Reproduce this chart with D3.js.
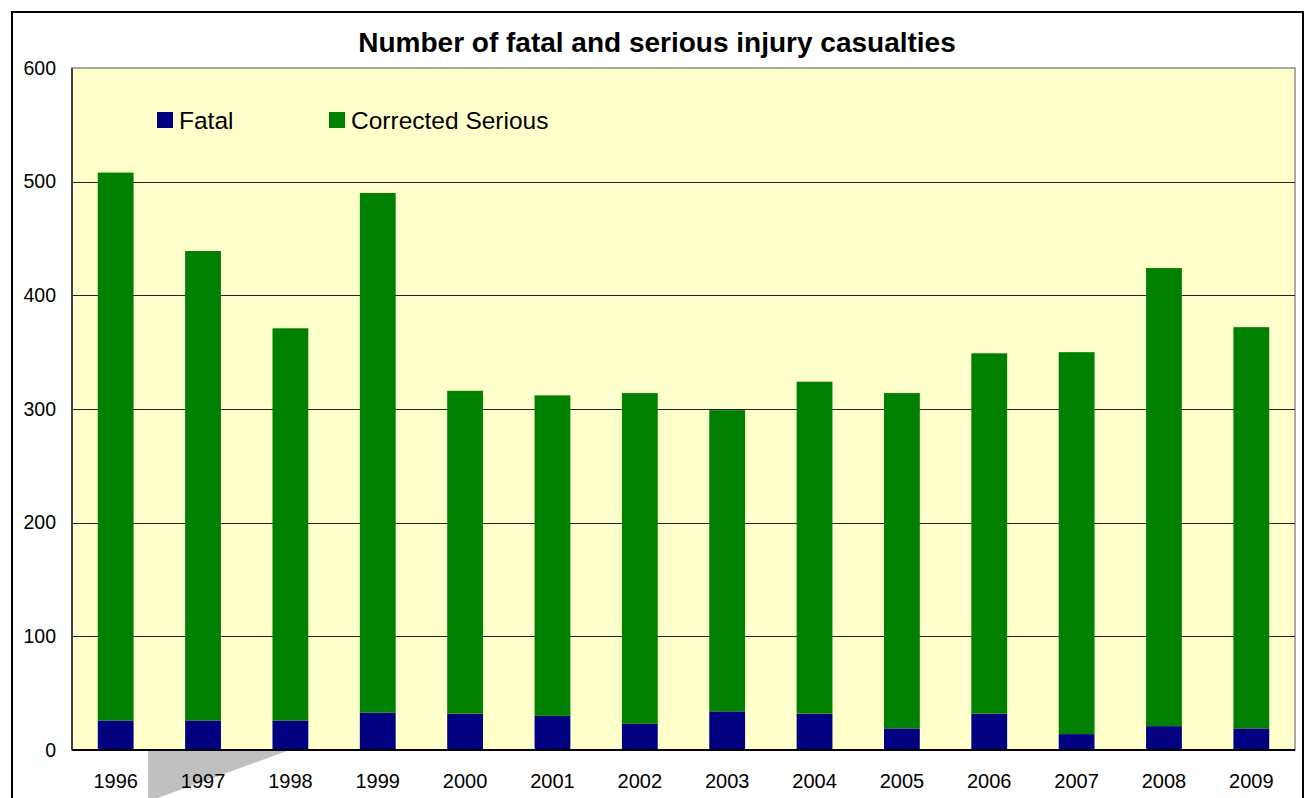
<!DOCTYPE html>
<html><head><meta charset="utf-8">
<script src="https://cdn.jsdelivr.net/npm/d3@7"></script>
<style>body{margin:0;background:#fff}svg{display:block}text{font-family:"Liberation Sans",Arial,sans-serif}</style>
</head><body><svg id="c" width="1308" height="798"></svg>
<script>
const years = ["1996","1997","1998","1999","2000","2001","2002","2003","2004","2005","2006","2007","2008","2009"];
const fatal = [26,26,26,33,32,30,23,34,32,19,32,14,21,19];
const correctedSerious = [482,413,345,457,284,282,291,265,292,295,317,336,403,353];
const yTicks = [0,100,200,300,400,500,600];
const seriesNames = ["Fatal","Corrected Serious"];
const colors = ["#000080","#008000"];
const title = "Number of fatal and serious injury casualties";

const svg = d3.select("#c");
const L = 72, R = 1295, T = 68, B = 750;

// outer frame
svg.append("rect").attr("x",12).attr("y",12).attr("width",1291).attr("height",800)
  .attr("fill","#fff").attr("stroke","#000").attr("stroke-width",2);

const x = d3.scaleBand().domain(years).range([L,R]).paddingInner(0.59).paddingOuter(0.295);
const y = d3.scaleLinear().domain([0,600]).range([B,T]);

// plot background
svg.append("rect").attr("x",L).attr("y",T).attr("width",R-L).attr("height",B-T)
  .attr("fill","#FFFFCC").attr("stroke","#8c8c8c").attr("stroke-width",1.5);

// gridlines
svg.append("g").selectAll("line").data(yTicks.filter(d=>d>0&&d<600)).join("line")
  .attr("x1",L).attr("x2",R).attr("y1",d=>Math.round(y(d))+0.5).attr("y2",d=>Math.round(y(d))+0.5)
  .attr("stroke","#222").attr("stroke-width",1);

// stacked bars
const rows = years.map((yr,i)=>({year:yr, Fatal:fatal[i], "Corrected Serious":correctedSerious[i]}));
const stack = d3.stack().keys(seriesNames)(rows);
svg.append("g").selectAll("g").data(stack).join("g").attr("fill",(d,i)=>colors[i])
  .selectAll("rect").data(d=>d).join("rect")
  .attr("x",d=>x(d.data.year)).attr("width",x.bandwidth())
  .attr("y",d=>y(d[1])).attr("height",d=>y(d[0])-y(d[1]));

// axes lines
svg.append("line").attr("x1",L).attr("x2",L).attr("y1",T).attr("y2",B).attr("stroke","#404040").attr("stroke-width",2);
svg.append("line").attr("x1",L).attr("x2",R).attr("y1",B).attr("y2",B).attr("stroke","#000").attr("stroke-width",2);

// y axis labels
const yAxis = d3.axisLeft(y).tickValues(yTicks).tickSize(0).tickPadding(16);
const ya = svg.append("g").attr("transform",`translate(${L},0)`).call(yAxis);
ya.select(".domain").remove();
ya.selectAll("text").attr("font-size",19.5).attr("fill","#000").attr("font-family","Liberation Sans, Arial, sans-serif");

// callout gray shape
svg.append("polygon").attr("points",`148,751 287,751 152,800 148,800`).attr("fill","#c0c0c0");

// x axis labels
const xAxis = d3.axisBottom(x).tickSize(0).tickPadding(24);
const xa = svg.append("g").attr("transform",`translate(0,${B})`).call(xAxis);
xa.select(".domain").remove();
xa.selectAll("text").attr("font-size",20).attr("fill","#000").attr("font-family","Liberation Sans, Arial, sans-serif");

// title
svg.append("text").attr("x",657).attr("y",52).attr("text-anchor","middle")
  .attr("font-size",28).attr("font-weight","bold").text(title);

// legend
const legX = [157,329];
const lg = svg.append("g").selectAll("g").data(seriesNames).join("g")
  .attr("transform",(d,i)=>`translate(${legX[i]},112)`);
lg.append("rect").attr("width",16).attr("height",16).attr("fill",(d,i)=>colors[i]);
lg.append("text").attr("x",22).attr("y",16.5).attr("font-size",24.5).attr("fill","#000").text(d=>d);
</script></body></html>
